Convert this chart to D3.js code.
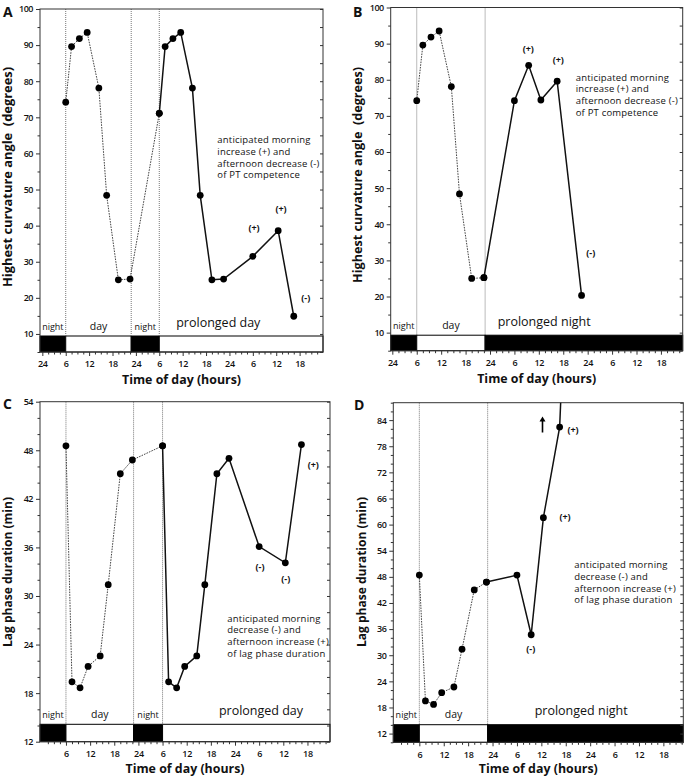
<!DOCTYPE html>
<html><head><meta charset="utf-8">
<script src="https://cdn.jsdelivr.net/npm/d3@7"></script>
<style>
body{margin:0;background:#fff}
svg{display:block}
text{font-family:"Open Sans",sans-serif;fill:#111}
</style>
</head><body>
<svg id="c" width="685" height="778"></svg>
<script>
// ---------------- DATA ----------------
// sampling times (hours from the first midnight)
const hoursDay1 = [6, 7.5, 9.5, 11.5, 14.5, 16.5, 19.5, 22.5];
const hoursDay2 = [30, 31.5, 33.5, 35.5, 38.5, 40.5, 43.5, 46.5, 54, 60.5, 64.5];
const hoursB2 = [22.5, 30, 33.5, 36.5, 40.5, 46.5];
const hoursD2 = [22.5, 30, 33.5, 36.5, 40.5, 41.5];

// A: highest curvature angle (degrees), 16:8 LD then prolonged day
const angleDay1 = [74.2, 89.6, 91.8, 93.5, 78.1, 48.4, 25.0, 25.2];
const angleA2 = [71.1, 89.6, 91.8, 93.5, 78.1, 48.4, 25.0, 25.2, 31.5, 38.6, 14.9];
// B: prolonged night
const angleB2 = [25.2, 74.2, 84.0, 74.4, 79.6, 20.3];
// C: lag phase duration (min), prolonged day
const lagDay1C = [48.55, 19.4, 18.65, 21.3, 22.6, 31.4, 45.1, 46.8];
const lagC2 = [48.55, 19.4, 18.65, 21.3, 22.6, 31.4, 45.1, 47.0, 36.1, 34.1, 48.7];
// D: prolonged night (last value runs off the scale)
const lagDay1D = [48.4, 19.5, 18.7, 21.4, 22.7, 31.4, 45.0, 46.8];
const lagD2 = [46.8, 48.4, 34.7, 61.6, 82.4, 105];

// light regime
const lightsOn = 6, lightsOff = 22.8, lightsOn2 = 30;
const phasesProlongedDay = [["night", -5, lightsOn], ["day", lightsOn, lightsOff], ["night", lightsOff, lightsOn2], ["day", lightsOn2, 100]];
const phasesProlongedNight = [["night", -5, lightsOn], ["day", lightsOn, lightsOff], ["night", lightsOff, 100]];

// tick values / labels
const xTickHours = [0, 6, 12, 18, 24, 30, 36, 42, 48, 54, 60, 66];
const xTickLabels = ["24", "6", "12", "18", "24", "6", "12", "18", "24", "6", "12", "18"];
const angleTicks = [10, 20, 30, 40, 50, 60, 70, 80, 90, 100];
const lagTicksC = [12, 18, 24, 30, 36, 42, 48, 54];
const lagTicksD = [12, 18, 24, 30, 36, 42, 48, 54, 60, 66, 72, 78, 84];

const notesPT = ["anticipated morning", "increase (+) and", "afternoon decrease (-)", "of PT competence"];
const notesLag = ["anticipated morning", "decrease (-) and", "afternoon increase (+)", "of lag phase duration"];

// ---------------- LAYOUT ----------------
const panels = [
  { id: "A", box: [40, 9, 323, 352], xDom: [-0.6, 72], yDom: [5, 100], yTicks: angleTicks, yMinor: 5,
    firstLabel: true, phases: phasesProlongedDay, barH: 16,
    dotted: [hoursDay1.concat([hoursDay2[0]]), angleDay1.concat([angleA2[0]])],
    solid: [hoursDay2, angleA2],
    yTitle: "Highest curvature angle  (degrees)", yTitlePos: [11.5, 177, 220],
    xTitlePos: [181.5, 384], letter: [3, 17],
    prolonged: "prolonged day", prolongedX: 218.3,
    notes: notesPT, notesPos: [217.3, 140],
    signs: [["(+)", 254, 227.7], ["(+)", 281, 209], ["(-)", 305.7, 297.3]] },
  { id: "B", box: [390.7, 7.5, 682.7, 350.7], xDom: [-0.4, 71.35], yDom: [5, 100], yTicks: angleTicks, yMinor: 5,
    firstLabel: true, phases: phasesProlongedNight, barH: 15.5,
    dotted: [hoursDay1, angleDay1],
    solid: [hoursB2, angleB2],
    yTitle: "Highest curvature angle  (degrees)", yTitlePos: [361.5, 175, 216],
    xTitlePos: [536.7, 382.5], letter: [353, 17],
    prolonged: "prolonged night", prolongedX: 544.2,
    notes: notesPT, notesPos: [575.7, 77.3],
    signs: [["(+)", 528.3, 48.3], ["(+)", 558.3, 60], ["(-)", 590.7, 252.7]] },
  { id: "C", box: [40, 401.7, 330, 741.7], xDom: [-0.45, 71.6], yDom: [12, 54], yTicks: lagTicksC, yMinor: 2,
    firstLabel: false, phases: phasesProlongedDay, barH: 17.4,
    dotted: [hoursDay1.concat([hoursDay2[0]]), lagDay1C.concat([lagC2[0]])],
    solid: [hoursDay2, lagC2],
    yTitle: "Lag phase duration (min)", yTitlePos: [11.5, 572, 150],
    xTitlePos: [185, 773], letter: [3, 409],
    prolonged: "prolonged day", prolongedX: 261,
    notes: notesLag, notesPos: [227.3, 618.3],
    signs: [["(+)", 313.3, 465], ["(-)", 260, 566.7], ["(-)", 285.7, 579]] },
  { id: "D", box: [393.3, 402.7, 683.3, 742.3], xDom: [-0.4, 70.9], yDom: [10, 88], yTicks: lagTicksD, yMinor: 2,
    firstLabel: false, phases: phasesProlongedNight, barH: 17.6,
    dotted: [hoursDay1, lagDay1D],
    solid: [hoursD2, lagD2],
    yTitle: "Lag phase duration (min)", yTitlePos: [365.5, 572, 150],
    xTitlePos: [538.3, 773], letter: [354, 409.5],
    prolonged: "prolonged night", prolongedX: 581.2,
    notes: notesLag, notesPos: [574.3, 565],
    signs: [["(+)", 573, 429.3], ["(+)", 565, 517], ["(-)", 530.7, 648.3]],
    arrow: [542.5, 432.5, 416.5] }
];

const svg = d3.select("#c");
const defs = svg.append("defs");

function styleAxis(sel) {
  sel.select(".domain").remove();
  sel.selectAll(".tick line").attr("stroke", "#333").attr("stroke-width", 1);
}

panels.forEach(p => {
  const [L, T, R, B] = p.box;
  const x = d3.scaleLinear().domain(p.xDom).range([L, R]);
  const y = d3.scaleLinear().domain(p.yDom).range([B, T]);
  const g = svg.append("g");
  const barTop = B - p.barH;

  defs.append("clipPath").attr("id", "clip" + p.id)
    .append("rect").attr("x", L).attr("y", T).attr("width", R - L).attr("height", B - T);

  // light/dark bar
  p.phases.forEach(([kind, a, b]) => {
    const a2 = Math.max(a, p.xDom[0]), b2 = Math.min(b, p.xDom[1]);
    g.append("rect").attr("x", x(a2)).attr("y", barTop)
      .attr("width", x(b2) - x(a2)).attr("height", p.barH)
      .attr("fill", kind === "night" ? "#000" : "#fff")
      .attr("stroke", "#000").attr("stroke-width", 1);
  });

  // transition lines
  p.phases.slice(1).forEach(([kind, a]) => {
    g.append("line").attr("x1", x(a)).attr("x2", x(a)).attr("y1", T).attr("y2", barTop)
      .attr("stroke", "#777").attr("stroke-width", 1).attr("stroke-dasharray", "1,1");
  });

  // night/day labels
  p.phases.forEach(([kind, a, b], i) => {
    const a2 = Math.max(a, p.xDom[0]), b2 = Math.min(b, p.xDom[1]);
    const last = i === p.phases.length - 1 && i > 1;
    if (last) {
      g.append("text").attr("x", p.prolongedX).attr("y", barTop - 9.5)
        .attr("text-anchor", "middle").attr("font-size", 12.5).text(p.prolonged);
    } else {
      g.append("text").attr("x", (x(a2) + x(b2)) / 2).attr("y", barTop - 6.5)
        .attr("text-anchor", "middle")
        .attr("font-size", kind === "night" ? 9 : 10.5)
        .text(kind);
    }
  });

  // frame
  g.append("rect").attr("x", L).attr("y", T).attr("width", R - L).attr("height", B - T)
    .attr("fill", "none").attr("stroke", "#333").attr("stroke-width", 1);

  // y axes
  const minor = d3.range(p.yDom[0], p.yDom[1] + 0.001, p.yMinor).filter(v => !p.yTicks.includes(v));
  const ya = g.append("g").attr("transform", `translate(${L},0)`)
    .call(d3.axisLeft(y).tickValues(p.yTicks).tickSize(4).tickPadding(3));
  styleAxis(ya);
  ya.selectAll("text").attr("font-size", 9).attr("font-weight", 600)
    .attr("letter-spacing", -0.5).attr("font-family", "Open Sans").attr("fill", "#222");
  const ym = g.append("g").attr("transform", `translate(${L},0)`)
    .call(d3.axisLeft(y).tickValues(minor).tickSize(2.5).tickFormat(""));
  styleAxis(ym);
  const yr = g.append("g").attr("transform", `translate(${R},0)`)
    .call(d3.axisRight(y).tickValues(p.yTicks.concat(minor)).tickSize(-3).tickFormat(""));
  styleAxis(yr);

  // x axis
  const xt = p.firstLabel ? xTickHours : xTickHours.slice(1);
  const xl = p.firstLabel ? xTickLabels : xTickLabels.slice(1);
  const xa = g.append("g").attr("transform", `translate(0,${B})`)
    .call(d3.axisBottom(x).tickValues(xt).tickSize(4).tickPadding(5).tickFormat((d, i) => xl[i]));
  styleAxis(xa);
  xa.selectAll("text").attr("font-size", 9).attr("font-weight", 600)
    .attr("letter-spacing", -0.3).attr("font-family", "Open Sans").attr("fill", "#222");
  const xMinor = d3.range(0, p.xDom[1], 1.5).filter(h => h >= p.xDom[0] && h % 6 !== 0);
  const xm = g.append("g").attr("transform", `translate(0,${B})`)
    .call(d3.axisBottom(x).tickValues(xMinor).tickSize(2.5).tickFormat(""));
  styleAxis(xm);

  // series
  const line = d3.line().x(d => x(d[0])).y(d => y(d[1]));
  const dotted = p.dotted[0].map((h, i) => [h, p.dotted[1][i]]);
  const solid = p.solid[0].map((h, i) => [h, p.solid[1][i]]);
  const plotG = g.append("g").attr("clip-path", `url(#clip${p.id})`);
  plotG.append("path").datum(dotted).attr("d", line).attr("fill", "none")
    .attr("stroke", "#444").attr("stroke-width", 1).attr("stroke-dasharray", "1.6,1.1");
  plotG.append("path").datum(solid).attr("d", line).attr("fill", "none")
    .attr("stroke", "#111").attr("stroke-width", 1.5);
  const pts = dotted.concat(solid).filter(d => d[1] <= p.yDom[1] && d[1] >= p.yDom[0]);
  plotG.selectAll("circle.pt").data(pts).enter().append("circle")
    .attr("cx", d => x(d[0])).attr("cy", d => y(d[1])).attr("r", 3.4).attr("fill", "#000");

  // sign annotations
  p.signs.forEach(([t, sx, sy]) => {
    g.append("text").attr("x", sx).attr("y", sy + 3.2).attr("text-anchor", "middle")
      .attr("font-size", 9).attr("font-weight", 700).text(t);
  });

  // note block
  p.notes.forEach((t, i) => {
    g.append("text").attr("x", p.notesPos[0]).attr("y", p.notesPos[1] + 3.4 + i * 11.6)
      .attr("font-family", "Liberation Sans, Arial, sans-serif")
      .attr("font-size", 9.5).attr("letter-spacing", 0.2).text(t);
  });

  // arrow (D)
  if (p.arrow) {
    const [ax, ay1, ay2] = p.arrow;
    g.append("line").attr("x1", ax).attr("x2", ax).attr("y1", ay1).attr("y2", ay2 + 4)
      .attr("stroke", "#000").attr("stroke-width", 1.6);
    g.append("path").attr("d", `M${ax - 3},${ay2 + 5} L${ax},${ay2} L${ax + 3},${ay2 + 5} Z`).attr("fill", "#000");
  }

  // titles
  g.append("text").attr("transform", `translate(${p.yTitlePos[0]},${p.yTitlePos[1]}) rotate(-90)`)
    .attr("text-anchor", "middle").attr("font-size", 12.5).attr("font-weight", 700)
    .attr("textLength", p.yTitlePos[2]).attr("lengthAdjust", "spacingAndGlyphs")
    .style("white-space", "pre").text(p.yTitle);
  g.append("text").attr("x", p.xTitlePos[0]).attr("y", p.xTitlePos[1])
    .attr("text-anchor", "middle").attr("font-size", 12.5).attr("font-weight", 700)
    .attr("textLength", 119).attr("lengthAdjust", "spacingAndGlyphs")
    .text("Time of day (hours)");
  g.append("text").attr("x", p.letter[0]).attr("y", p.letter[1])
    .attr("font-size", 14).attr("font-weight", 700).text(p.id);
});
</script>
</body></html>
